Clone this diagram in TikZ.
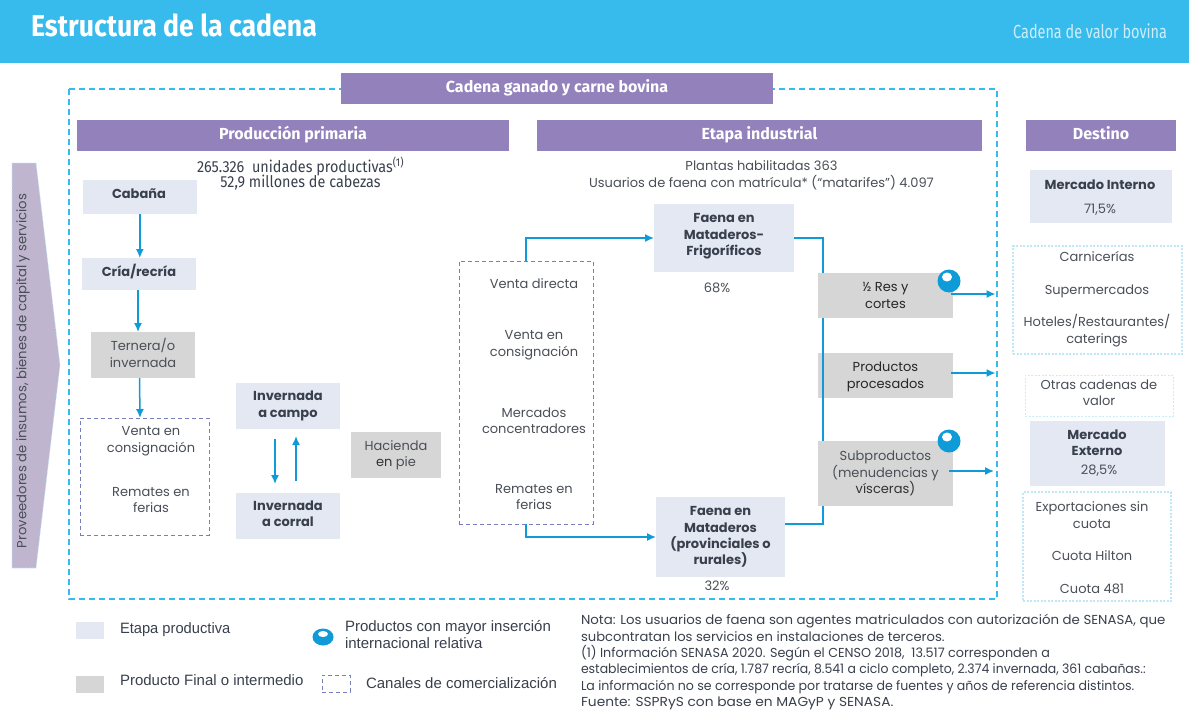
\documentclass[tikz,border=0pt]{standalone}
\usepackage{fontspec}
\setmainfont{Poppins}
\newfontfamily\headf{Fira Sans}
\newfontfamily\legf{Liberation Sans}
\usetikzlibrary{arrows.meta,calc}
\definecolor{sky}{HTML}{37BBED}
\definecolor{purp}{HTML}{9381BC}
\definecolor{lav}{HTML}{E4E8F3}
\definecolor{gry}{HTML}{D6D6D6}
\definecolor{arrowc}{HTML}{0E9BD8}
\definecolor{dashc}{HTML}{767FBC}
\definecolor{txt}{HTML}{4A4F57}
\definecolor{dk}{HTML}{39404D}
\definecolor{pale}{HTML}{BFE7F8}
\definecolor{arr}{HTML}{BFB5CE}
\tikzset{
 x=1pt,y=-1pt,
 every node/.style={inner sep=0pt,outer sep=0pt,align=center,text=txt,font=\fontsize{13}{16.5}\selectfont},
 head/.style={fill=purp,text=white,font=\headf\bfseries\fontsize{16}{18}\selectfont,text height=11pt,text depth=4pt},
 stage/.style={fill=lav,text=dk,font=\bfseries\fontsize{13}{16.3}\selectfont},
 stagetext/.style={text=dk,font=\bfseries\fontsize{13}{16.3}\selectfont},
 prod/.style={fill=gry},
 canal/.style={draw=dashc,line width=.9pt,dash pattern=on 4pt off 3pt},
 paleb/.style={draw=pale,line width=1.2pt,dash pattern=on 2pt off 1.5pt},
 flow/.style={draw=arrowc,line width=1.5pt,-{Latex[length=9pt,width=8pt]}},
 link/.style={draw=arrowc,line width=1.5pt},
 legtext/.style={text=dk,anchor=west,font=\legf\fontsize{15}{17}\selectfont},
}
\begin{document}
\begin{tikzpicture}
\useasboundingbox (0,0) rectangle (1189,715);
\fill[white] (0,0) rectangle (1189,715);
\fill[sky] (0,0) rectangle (1189,63);
\node[anchor=west,text=white,font=\headf\bfseries\fontsize{30}{34}\selectfont] (ttl) at (31,25) {\scalebox{.89}[1]{Estructura de la cadena}};
\node[anchor=east,text=white,font=\headf\fontsize{19}{21}\selectfont,opacity=.75] (sub) at (1167,31) {\scalebox{.76}[1]{Cadena de valor bovina}};
% main dashed frame
\draw[draw=sky,line width=1.4pt,dash pattern=on 6pt off 4pt] (69,89) rectangle (997,599);
% headers
\node[head,minimum width=432pt,minimum height=31pt,anchor=north west] (chain) at (341,73) {Cadena ganado y carne bovina};
\node[head,minimum width=432pt,minimum height=31pt,anchor=north west] (prim) at (77,120) {Producción primaria};
\node[head,minimum width=445pt,minimum height=31pt,anchor=north west] (ind) at (537,120) {Etapa industrial};
\node[head,minimum width=150pt,minimum height=31pt,anchor=north west] (dest) at (1026,120) {Destino};
% left arrow
\fill[arr] (12,163) -- (36,163) -- (60,365) -- (36,568) -- (12,568) -- cycle;
\draw[pale,line width=.6pt,dash pattern=on 2pt off 1.5pt] (12,163) -- (36,163) -- (60,365) -- (36,568) -- (12,568) -- cycle;
\node[rotate=90,font=\fontsize{13.2}{16}\selectfont] (prov) at (23,371) {Proveedores de insumos, bienes de capital y servicios};
% stats
\node[text=dk,font=\headf\fontsize{16}{17}\selectfont] (stat1) at (300.5,173.5) {\scalebox{.9}[1]{265.326\ \ unidades productivas\textsuperscript{(1)}}\\[-2pt]\scalebox{.9}[1]{52,9 millones de cabezas}};
\node[font=\fontsize{13}{17}\selectfont] (stat2) at (761.5,175.5) {Plantas habilitadas 363\\Usuarios de faena con matrícula* (“matarifes”) 4.097};
% left column
\node[stage,minimum width=114pt,minimum height=34pt,anchor=north west] (cab) at (83,180) {};
\node[stagetext] (cabt) at (139,194) {Cabaña};
\node[stage,minimum width=114pt,minimum height=32pt,anchor=north west] (cria) at (82,258) {};
\node[stagetext] (criat) at (139,272) {Cría/recría};
\node[prod,minimum width=104pt,minimum height=46pt,anchor=north west,text depth=4pt] (tern) at (91,332) {Ternera/o\\invernada};
\draw[flow] ([xshift=-.2pt]cab.south) -- ([xshift=.8pt]cria.north);
\draw[flow] ([xshift=-1pt]cria.south) -- ([xshift=-5pt]tern.north);
\node[canal,minimum width=129pt,minimum height=117pt,anchor=north west] (canal1) at (80,418) {};
\draw[flow] ([xshift=-3.5pt]tern.south) -- ([xshift=-4.5pt]canal1.north);
\node (c1a) at (151,441) {Venta en\\consignación};
\node (c1b) at (151,500) {Remates en\\ferias};
% invernada
\node[stage,minimum width=104pt,minimum height=46pt,anchor=north west] (icampo) at (236,383) {Invernada\\a campo};
\node[stage,minimum width=104pt,minimum height=46pt,anchor=north west,text depth=4pt] (icorral) at (236,493) {Invernada\\a corral};
\draw[flow] ([xshift=-13pt,yshift=-10pt]icampo.south) -- ([xshift=-13pt,yshift=9pt]icorral.north);
\draw[flow] ([xshift=8pt,yshift=12pt]icorral.north) -- ([xshift=8pt,yshift=-7pt]icampo.south);
\node[prod,minimum width=90pt,minimum height=46pt,anchor=north west] (hac) at (351,432) {Hacienda\\{\color{black!80}en} pie};
% canales
\node[canal,minimum width=134pt,minimum height=263pt,anchor=north west] (canal2) at (459,261) {};
\node (c2a) at (534,284) {Venta directa};
\node (c2b) at (534,345) {Venta en\\consignación};
\node (c2c) at (534,420.5) {Mercados\\concentradores};
\node (c2d) at (534,497) {Remates en\\ferias};
% faena
\node[stage,minimum width=140pt,minimum height=68pt,anchor=north west,text depth=7pt] (fa) at (654,204) {Faena en\\Mataderos-\\Frigoríficos};
\node (p68) at (717,288) {68\%};
\node[stage,minimum width=129pt,minimum height=80pt,anchor=north west] (fb) at (656,497) {Faena en\\Mataderos\\(provinciales o\\rurales)};
\node (p32) at (717,586) {32\%};
\draw[flow] (canal2.north) |- (fa.west);
\draw[flow] (canal2.south) |- (fb.west);
% products
\node[prod,text=black!85,minimum width=135pt,minimum height=45pt,anchor=north west] (res) at (818,273) {½ Res y\\cortes};
\node[prod,text=black!85,minimum width=135pt,minimum height=45pt,anchor=north west] (pp) at (818,353) {};
\node[text=black!85,font=\fontsize{13}{17}\selectfont] (ppt) at (885.5,376.5) {Productos\\procesados};
\node[prod,minimum width=135pt,minimum height=65pt,anchor=north west] (sub2) at (818,441) {Subproductos\\(menudencias y\\{\color{black!80}vísceras)}};
\coordinate (bus) at (823,238);
\draw[link] (fa.east) -| (res.north -| bus);
\draw[link] ([yshift=13pt]fb.east) -| (sub2.south -| bus);
\draw[link] (res.south -| bus) -- (sub2.north -| bus);
\coordinate (o1) at (995.5,294); \coordinate (o2) at (995.5,373); \coordinate (o3) at (994,471);
\draw[flow] (res.east |- o1) ++(-2,0) -- (o1);
\draw[flow] (pp.east |- o2) ++(-2,0) -- (o2);
\draw[flow] (sub2.east |- o3) ++(-4,0) -- (o3);
\fill[arrowc] (949,281) circle (11.5pt); \fill[white] (947,277) ellipse (5pt and 4.5pt);
\fill[arrowc] (949,441) circle (11.5pt); \fill[white] (947,437) ellipse (5pt and 4.5pt);
% destino
\node[stage,minimum width=142pt,minimum height=53pt,anchor=north west] (mi) at (1030,170) {};
\node[stagetext] (mit) at (1100,185) {Mercado Interno};
\node (mip) at (1100,210) {71,5\%};
\node[paleb,minimum width=169pt,minimum height=108pt,anchor=north west] (b1) at (1013,246) {};
\node (b1a) at (1097,256) {Carnicerías};
\node (b1b) at (1097,291.5) {Supermercados};
\node (b1c) at (1097,330.5) {Hoteles/Restaurantes/\\caterings};
\node[paleb,draw=pale!80!white,line width=.8pt,minimum width=148pt,minimum height=41pt,anchor=north west,text depth=6pt] (b2) at (1025,375) {Otras cadenas de\\valor};
\node[stage,minimum width=135pt,minimum height=65pt,anchor=north west] (me) at (1030,421) {};
\node[stagetext] (met) at (1097,443) {Mercado\\Externo};
\node (mep) at (1099,471) {28,5\%};
\node[paleb,minimum width=148pt,minimum height=109pt,anchor=north west] (b3) at (1023,492) {};
\node (b3a) at (1092,515) {Exportaciones sin\\cuota};
\node (b3b) at (1092,556) {Cuota Hilton};
\node (b3c) at (1092,589) {Cuota 481};
% legend
\fill[lav] (76,622) rectangle (104,639);
\fill[gry] (76,676) rectangle (104,693);
\node[legtext] (l1) at (120,630) {\scalebox{.98}[1]{Etapa productiva}};
\node[legtext] (l2) at (120,680) {Producto Final o intermedio};
\fill[arrowc] (323,637) ellipse (10.5pt and 8.5pt); \fill[white] (323,634) ellipse (5pt and 3pt);
\node[legtext,align=left] (l3) at (345,635) {Productos con mayor inserción\\internacional relativa};
\node[canal,minimum width=28pt,minimum height=17pt,anchor=north west,line width=.7pt] (lc) at (322,675) {};
\node[legtext] (l4) at (366,683) {Canales de comercialización};
% note
\node[anchor=north west,align=left,text=dk,font=\fontsize{13}{16.4}\selectfont] (note) at (581,614.5) {\scalebox{1.025}[1]{Nota: Los usuarios de faena son agentes matriculados con autorización de SENASA, que}\\\scalebox{1.01}[1]{subcontratan los servicios en instalaciones de terceros.}\\\scalebox{.982}[1]{(1) Información SENASA 2020. Según el CENSO 2018,\ \ 13.517 corresponden a}\\\scalebox{.958}[1]{establecimientos de cría, 1.787 recría, 8.541 a ciclo completo, 2.374 invernada, 361 cabañas.:}\\\scalebox{.967}[1]{La información no se corresponde por tratarse de fuentes y años de referencia distintos.}\\\scalebox{1.06}[1]{Fuente: SSPRyS con base en MAGyP y SENASA.}};
\end{tikzpicture}
\end{document}
